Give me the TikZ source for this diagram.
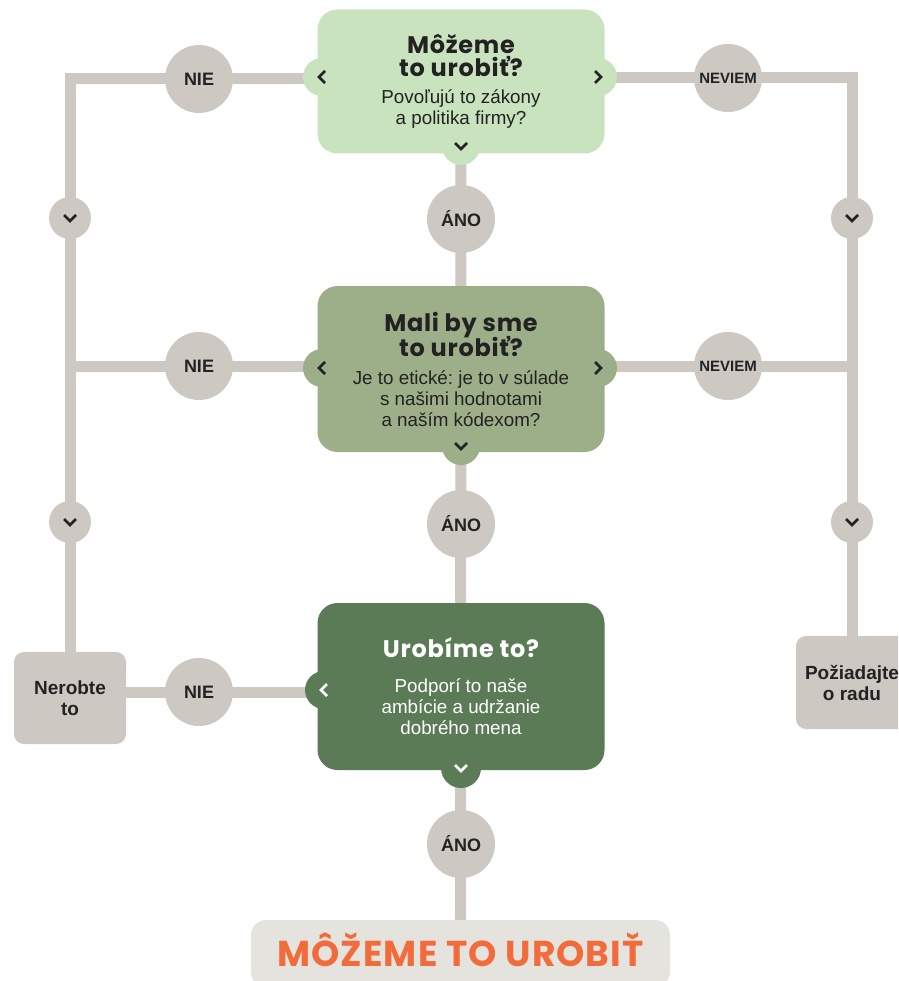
\documentclass[tikz,border=0pt]{standalone}
\usepackage{fontspec}
\setmainfont{Liberation Sans}
\newfontfamily\headfont{Poppins}[LetterSpace=3]
\usetikzlibrary{backgrounds}
\setlength{\lineskiplimit}{-100pt}
\frenchspacing
\definecolor{linegray}{RGB}{205,200,194}
\definecolor{qlight}{RGB}{201,227,190}
\definecolor{qmid}{RGB}{157,175,136}
\definecolor{qdark}{RGB}{91,123,87}
\definecolor{donefill}{RGB}{229,227,222}
\definecolor{doneorange}{RGB}{242,108,59}
\definecolor{darktext}{RGB}{34,34,34}
\newcommand\headline[1]{{\headfont\bfseries\fontsize{24}{24}\selectfont #1}}
\tikzset{
  chevdown/.pic={\draw[chevline] (-6,-3) -- (0,3) -- (6,-3);},
  chevleft/.pic={\draw[chevline] (3,-6) -- (-3,0) -- (3,6);},
  chevright/.pic={\draw[chevline] (-3,-6) -- (3,0) -- (-3,6);}
}
\begin{document}
\begin{tikzpicture}[x=1pt, y=-1pt,
    link/.style ={draw=linegray, line width=11pt},
    question/.style ={rectangle, rounded corners=20pt, inner sep=0pt, align=center,
      minimum width=287pt, text=darktext, font=\fontsize{18.8}{21}\selectfont},
    bump/.style ={circle, inner sep=0pt, minimum size=38pt},
    answer/.style ={circle, fill=linegray, inner sep=0pt, minimum size=68pt,
      text=darktext, font=\bfseries\fontsize{18}{18}\selectfont},
    hop/.style ={circle, fill=linegray, inner sep=0pt, minimum size=42pt},
    outcome/.style ={rectangle, rounded corners=10pt, fill=linegray, align=center,
      minimum width=112pt, minimum height=92pt, text=darktext,
      font=\bfseries\fontsize{19}{21}\selectfont},
    chevline/.style ={draw=darktext, line width=2.6pt}]
   \clip (0,0) rectangle (898,981);

   \node[bump, fill=qlight] (q1w) at (322,77) {};
   \node[bump, fill=qlight] (q1e) at (598,77) {};
   \node[bump, fill=qlight] (q1s) at (461,146) {};
   \node[question, fill=qlight, minimum height=144pt] (q1) at (461,81.5)
     {\headline{Môžeme}\\[2pt]\headline{to urobiť?}\\[6pt]Povoľujú to zákony\\a politika firmy?};

   \node[bump, fill=qmid] (q2w) at (322,368) {};
   \node[bump, fill=qmid] (q2e) at (598,368) {};
   \node[bump, fill=qmid] (q2s) at (461,446) {};
   \node[question, fill=qmid, minimum height=166pt] (q2) at (461,369)
     {\headline{Mali by sme}\\[4pt]\headline{to urobiť?}\\[7pt]Je to etické: je to v súlade\\s našimi hodnotami\\a naším kódexom?};

   \node[bump, fill=qdark] (q3w) at (324,690) {};
   \node[bump, fill=qdark, minimum size=40pt] (q3s) at (461,768) {};
   \node[question, fill=qdark, minimum height=167pt, text=white] (q3) at (461,686.5)
     {\headline{Urobíme to?}\\[14pt]Podporí to naše\\ambície a udržanie\\dobrého mena};

   \node[answer] (nie1) at (199,79) {NIE};
   \node[answer] (nie2) at (199,366) {NIE};
   \node[answer] (nie3) at (199,692) {NIE};
   \node[answer, font=\bfseries\fontsize{15}{15}\selectfont] (neviem1) at (728,78) {NEVIEM};
   \node[answer, font=\bfseries\fontsize{15}{15}\selectfont] (neviem2) at (728,366) {NEVIEM};
   \node[answer] (ano1) at (461,219) {ÁNO};
   \node[answer] (ano2) at (461,524) {ÁNO};
   \node[answer] (ano3) at (461,844) {ÁNO};

   \node[hop] (hopL1) at (70,218) {};
   \node[hop] (hopL2) at (70,522) {};
   \node[hop] (hopR1) at (852,218) {};
   \node[hop] (hopR2) at (852,522) {};

   \node[outcome] (stop) at (70,698) {Nerobte\\to};
   \node[outcome, minimum height=93pt] (ask) at (852,682.5) {Požiadajte\\o radu};
   \node[rectangle, rounded corners=15pt, fill=donefill, minimum width=419pt,
     minimum height=67pt, text height=25pt, text depth=0pt, text=doneorange,
     font=\headfont\bfseries\fontsize{36}{36}\selectfont] (done) at (460.5,953.5)
     {MÔŽEME TO UROBIŤ};

   \pic at (q1w) {chevleft};
   \pic at (q1e) {chevright};
   \pic at (q1s) {chevdown};
   \pic at (q2w) {chevleft};
   \pic at (q2e) {chevright};
   \pic at (q2s) {chevdown};
   \pic[chevline/.append style={draw=white}] at (q3w) {chevleft};
   \pic[chevline/.append style={draw=white}] at (q3s) {chevdown};
   \pic at (hopL1) {chevdown};
   \pic at (hopL2) {chevdown};
   \pic at (hopR1) {chevdown};
   \pic at (hopR2) {chevdown};

   \begin{pgfonlayer}{background}
   \draw[link] (q1 |- nie1) -| (stop);
   \draw[link] (q1 |- neviem1) -| (ask);
   \draw[link] (q1) -- (done);
   \draw[link] (q2 |- nie2) -- (nie2 -| stop);
   \draw[link] (q2 |- neviem2) -- (neviem2 -| ask);
   \draw[link] (q3 |- nie3) -- (nie3 -| stop);
   \end{pgfonlayer}
 \end{tikzpicture}
\end{document}
